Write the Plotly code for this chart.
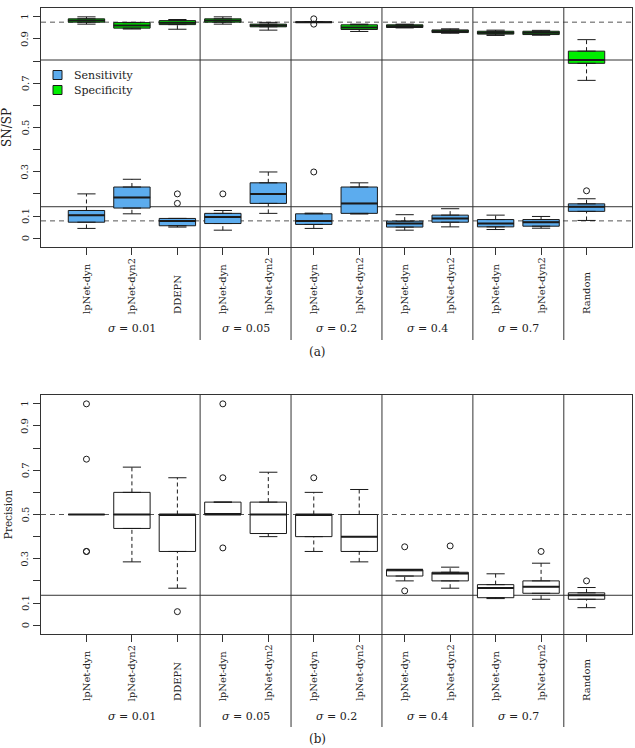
import plotly.graph_objects as go

# ---------------- data ----------------
positions = [1, 2, 3, 4, 5, 6, 7, 8, 9, 10, 11, 12]
tick_labels = ["lpNet-dyn", "lpNet-dyn2", "DDEPN", "lpNet-dyn", "lpNet-dyn2",
               "lpNet-dyn", "lpNet-dyn2", "lpNet-dyn", "lpNet-dyn2",
               "lpNet-dyn", "lpNet-dyn2", "Random"]
sigma_labels = ["<i>σ</i> = 0.01", "<i>σ</i> = 0.05", "<i>σ</i> = 0.2",
                "<i>σ</i> = 0.4", "<i>σ</i> = 0.7"]
group_centers = [2, 4.5, 6.5, 8.5, 10.5]
separators = [3.5, 5.5, 7.5, 9.5, 11.5]

y_tick_vals = [0, 0.1, 0.2, 0.3, 0.4, 0.5, 0.6, 0.7, 0.8, 0.9, 1.0]
y_tick_text = ["0", "0.1", "", "0.3", "", "0.5", "", "0.7", "", "0.9", "1"]

# Sensitivity (panel a)
sn_lo = [0.044, 0.110, 0.050, 0.036, 0.112, 0.044, 0.109, 0.036, 0.051, 0.039, 0.045, 0.080]
sn_q1 = [0.072, 0.136, 0.056, 0.066, 0.157, 0.062, 0.112, 0.050, 0.072, 0.051, 0.054, 0.121]
sn_med = [0.103, 0.184, 0.078, 0.095, 0.200, 0.078, 0.157, 0.066, 0.089, 0.066, 0.072, 0.142]
sn_q3 = [0.125, 0.231, 0.089, 0.112, 0.250, 0.110, 0.231, 0.077, 0.104, 0.084, 0.084, 0.155]
sn_hi = [0.200, 0.266, 0.089, 0.125, 0.299, 0.113, 0.250, 0.106, 0.133, 0.104, 0.098, 0.178]
sn_out_x = [3, 3, 4, 6, 12]
sn_out_y = [0.200, 0.157, 0.200, 0.299, 0.214]

# Specificity (panel a)
sp_lo = [0.967, 0.945, 0.944, 0.967, 0.940, 0.976, 0.934, 0.950, 0.926, 0.916, 0.917, 0.713]
sp_q1 = [0.976, 0.949, 0.965, 0.976, 0.955, 0.976, 0.943, 0.952, 0.929, 0.922, 0.920, 0.790]
sp_med = [0.983, 0.961, 0.973, 0.983, 0.961, 0.976, 0.952, 0.958, 0.935, 0.928, 0.928, 0.805]
sp_q3 = [0.991, 0.974, 0.983, 0.991, 0.967, 0.976, 0.964, 0.964, 0.941, 0.935, 0.935, 0.845]
sp_hi = [1.000, 0.975, 0.988, 1.000, 0.975, 0.976, 0.967, 0.967, 0.946, 0.940, 0.939, 0.897]
sp_out_x = [6, 6]
sp_out_y = [0.991, 0.967]

# Precision (panel b)
pr_lo = [0.500, 0.286, 0.167, 0.500, 0.400, 0.333, 0.286, 0.200, 0.167, 0.120, 0.117, 0.079]
pr_q1 = [0.500, 0.437, 0.333, 0.500, 0.414, 0.400, 0.333, 0.222, 0.200, 0.124, 0.144, 0.117]
pr_med = [0.500, 0.500, 0.500, 0.500, 0.500, 0.500, 0.400, 0.250, 0.233, 0.168, 0.174, 0.135]
pr_q3 = [0.500, 0.600, 0.500, 0.556, 0.556, 0.500, 0.500, 0.250, 0.239, 0.183, 0.200, 0.146]
pr_hi = [0.500, 0.714, 0.666, 0.556, 0.691, 0.600, 0.613, 0.250, 0.262, 0.232, 0.280, 0.170]
pr_out_x = [1, 1, 1, 1, 3, 4, 4, 4, 6, 8, 8, 9, 11, 12]
pr_out_y = [1.0, 0.75, 0.333, 0.333, 0.061, 1.0, 0.666, 0.349, 0.666, 0.354, 0.155, 0.358, 0.333, 0.200]

# reference lines
ref_a_solid = [0.805, 0.142]
ref_a_dashed = [0.976, 0.078]
ref_b_solid = [0.135]
ref_b_dashed = [0.5]

# ---------------- styling ----------------
FONT = "DejaVu Serif"
TXT = "#222222"
BLUE = "#5CACEE"
GREEN = "#00EE00"
EDGE = "#1a1a1a"
W, H = 635, 748
ML, MR, MT, MB = 41, 3, 8, 114
PW, PH = W - ML - MR, H - MT - MB
PANEL_SHIFT = 387  # pixel offset of panel (b) relative to panel (a)


def px_x(px):
    return (px - ML) / PW


def px_y(py):
    return (H - MB - py) / PH


dom_a = [px_y(247), 1.0]
dom_b = [0.0, px_y(395)]

fig = go.Figure()


def add_boxes(xa, ya, lo, q1, med, q3, hi, ox, oy, fill, name):
    fig.add_trace(go.Box(
        x=positions, q1=q1, median=med, q3=q3, lowerfence=q1, upperfence=q3,
        width=0.8, fillcolor=fill, line=dict(color=EDGE, width=1),
        boxpoints=False, name=name, showlegend=False, hoverinfo="skip",
        xaxis=xa, yaxis=ya))
    # whiskers (dashed)
    wx, wy = [], []
    for p, a, b, c, d in zip(positions, lo, q1, q3, hi):
        if a < b:
            wx += [p, p, None]
            wy += [a, b, None]
        if d > c:
            wx += [p, p, None]
            wy += [c, d, None]
    fig.add_trace(go.Scatter(x=wx, y=wy, mode="lines", xaxis=xa, yaxis=ya,
                             line=dict(color=EDGE, width=1, dash="4px,3px"),
                             showlegend=False, hoverinfo="skip"))
    # staples
    sx, sy = [], []
    for p, a, d in zip(positions, lo, hi):
        sx += [p - 0.2, p + 0.2, None, p - 0.2, p + 0.2, None]
        sy += [a, a, None, d, d, None]
    fig.add_trace(go.Scatter(x=sx, y=sy, mode="lines", xaxis=xa, yaxis=ya,
                             line=dict(color=EDGE, width=1),
                             showlegend=False, hoverinfo="skip"))
    # medians (thicker)
    mx, my = [], []
    for p, m in zip(positions, med):
        mx += [p - 0.4, p + 0.4, None]
        my += [m, m, None]
    fig.add_trace(go.Scatter(x=mx, y=my, mode="lines", xaxis=xa, yaxis=ya,
                             line=dict(color=EDGE, width=2),
                             showlegend=False, hoverinfo="skip"))
    # outliers
    fig.add_trace(go.Scatter(x=ox, y=oy, mode="markers", xaxis=xa, yaxis=ya,
                             marker=dict(symbol="circle-open", size=6,
                                         color=EDGE, line=dict(width=1)),
                             showlegend=False, hoverinfo="skip"))


add_boxes("x", "y", sn_lo, sn_q1, sn_med, sn_q3, sn_hi, sn_out_x, sn_out_y, BLUE, "Sensitivity")
add_boxes("x", "y", sp_lo, sp_q1, sp_med, sp_q3, sp_hi, sp_out_x, sp_out_y, GREEN, "Specificity")
add_boxes("x2", "y2", pr_lo, pr_q1, pr_med, pr_q3, pr_hi, pr_out_x, pr_out_y, "white", "Precision")

shapes = []
# horizontal reference lines
for v in ref_a_solid:
    shapes.append(dict(type="line", xref="x domain", yref="y", x0=0, x1=1, y0=v, y1=v,
                       line=dict(color="#333333", width=1), layer="below"))
for v in ref_a_dashed:
    shapes.append(dict(type="line", xref="x domain", yref="y", x0=0, x1=1, y0=v, y1=v,
                       line=dict(color="#555555", width=1, dash="5px,4px"), layer="below"))
for v in ref_b_solid:
    shapes.append(dict(type="line", xref="x2 domain", yref="y2", x0=0, x1=1, y0=v, y1=v,
                       line=dict(color="#333333", width=1), layer="below"))
for v in ref_b_dashed:
    shapes.append(dict(type="line", xref="x2 domain", yref="y2", x0=0, x1=1, y0=v, y1=v,
                       line=dict(color="#555555", width=1, dash="5px,4px"), layer="below"))

# vertical group separators, extending below each panel
for s in separators:
    shapes.append(dict(type="line", xref="x", yref="paper", x0=s, x1=s,
                       y0=1.0, y1=px_y(340), line=dict(color="#333333", width=1)))
    shapes.append(dict(type="line", xref="x2", yref="paper", x0=s, x1=s,
                       y0=dom_b[1], y1=px_y(340 + PANEL_SHIFT), line=dict(color="#333333", width=1)))

# legend squares
for (py, col) in [(75, BLUE), (90, GREEN)]:
    shapes.append(dict(type="rect", xref="paper", yref="paper",
                       x0=px_x(53), x1=px_x(62), y0=px_y(py + 4.5), y1=px_y(py - 4.5),
                       fillcolor=col, line=dict(color=EDGE, width=1)))

annotations = []
for (py, txt) in [(75, "Sensitivity"), (90, "Specificity")]:
    annotations.append(dict(xref="paper", yref="paper", x=px_x(72), y=px_y(py),
                            text=txt, showarrow=False, xanchor="left", yanchor="middle",
                            font=dict(family=FONT, size=11, color=TXT)))

for xr, yr, shift in [("x", "y", 0), ("x2", "y2", PANEL_SHIFT)]:
    # x tick labels (rotated, bottom aligned)
    for p, t in zip(positions, tick_labels):
        annotations.append(dict(xref=xr, yref="paper", x=p, y=px_y(315 + shift), text=t,
                                textangle=-90, showarrow=False, xanchor="center",
                                yanchor="bottom", borderpad=0,
                                font=dict(family=FONT, size=10, color=TXT)))
    # y tick labels (rotated)
    for v, t in zip(y_tick_vals, y_tick_text):
        if t:
            annotations.append(dict(xref="paper", yref=yr, x=px_x(25), y=v, text=t,
                                    textangle=-90, showarrow=False, xanchor="center",
                                    yanchor="middle", borderpad=0,
                                    font=dict(family=FONT, size=10, color=TXT)))
    # group labels
    for c, t in zip(group_centers, sigma_labels):
        annotations.append(dict(xref=xr, yref="paper", x=c, y=px_y(329 + shift), text=t,
                                showarrow=False, xanchor="center", yanchor="middle",
                                font=dict(family=FONT, size=11, color=TXT)))

annotations.append(dict(xref="paper", yref="paper", x=px_x(317), y=px_y(352), text="(a)",
                        showarrow=False, xanchor="center", yanchor="middle",
                        font=dict(family=FONT, size=12, color=TXT)))
annotations.append(dict(xref="paper", yref="paper", x=px_x(317), y=px_y(352 + PANEL_SHIFT),
                        text="(b)", showarrow=False, xanchor="center", yanchor="middle",
                        font=dict(family=FONT, size=12, color=TXT)))

xcommon = dict(range=[0, 13], tickmode="array", tickvals=positions, showticklabels=False,
               ticks="outside", ticklen=7, tickcolor="#333",
               showline=True, linecolor="#333", linewidth=1, mirror=True,
               showgrid=False, zeroline=False)
ycommon = dict(range=[-0.04, 1.04], tickmode="array", tickvals=y_tick_vals, showticklabels=False,
               ticks="outside", ticklen=7, tickcolor="#333",
               showline=True, linecolor="#333", linewidth=1, mirror=True,
               showgrid=False, zeroline=False)

fig.update_layout(
    width=W, height=H,
    margin=dict(l=ML, r=MR, t=MT, b=MB),
    paper_bgcolor="white", plot_bgcolor="white",
    boxmode="overlay", showlegend=False,
    xaxis=dict(xcommon, domain=[0, 1], anchor="y"),
    yaxis=dict(ycommon, domain=dom_a, anchor="x",
               title=dict(text="SN/SP", font=dict(family=FONT, size=12, color=TXT), standoff=18)),
    xaxis2=dict(xcommon, domain=[0, 1], anchor="y2"),
    yaxis2=dict(ycommon, domain=dom_b, anchor="x2",
                title=dict(text="Precision", font=dict(family=FONT, size=10.5, color=TXT), standoff=18)),
    shapes=shapes, annotations=annotations,
)

fig.write_html("out.html")
